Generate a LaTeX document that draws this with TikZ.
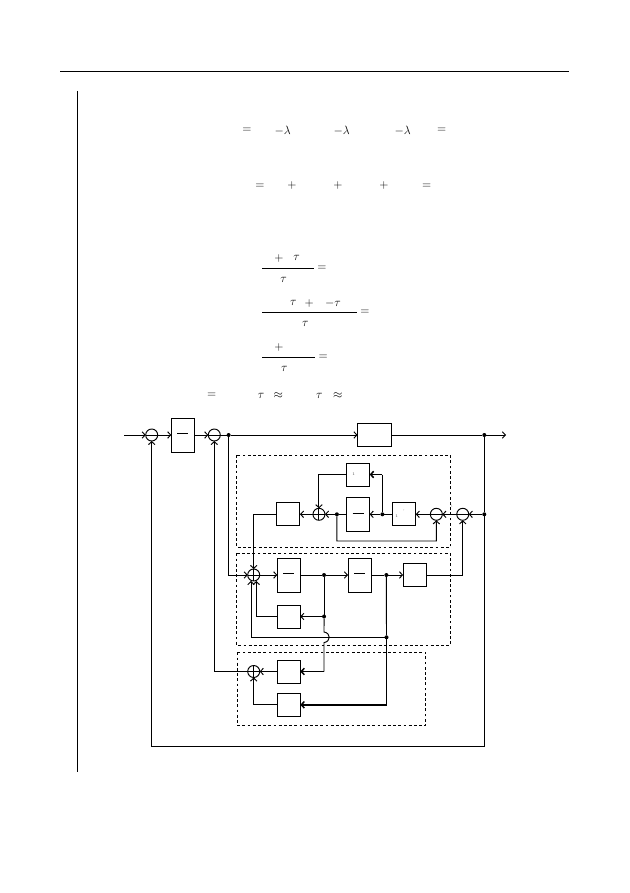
\documentclass[tikz,border=0pt]{standalone}
\usepackage{amsmath,amssymb}
\usepackage{xcolor}
\usetikzlibrary{positioning,arrows.meta,calc}
\newcommand{\fbar}{\rule[2.5pt]{11pt}{0.7pt}}

\begin{document}
\begin{tikzpicture}[x=1pt,y=-1pt,line width=0.95pt,
  block/.style={rectangle, draw, fill=white, minimum width=23pt, minimum height=23pt, inner sep=0pt, outer sep=0pt},
  fracv/.style={block, minimum height=34pt, font=\normalsize},
  frach/.style={block, minimum width=34pt},
  summ/.style={circle, draw, minimum size=12pt, inner sep=0pt, outer sep=0pt,
               path picture={\draw (path picture bounding box.west)--(path picture bounding box.east);}},
  sump/.style={summ, path picture={\draw (path picture bounding box.west)--(path picture bounding box.east);
               \draw (path picture bounding box.north)--(path picture bounding box.south);}},
  dot/.style={circle, fill, minimum size=4pt, inner sep=0pt, outer sep=0pt},
  arr/.style={-{Straight Barb[length=3pt,width=6.5pt]}},
  arrb/.style={arr, line width=1.5pt},
  group/.style={dashed, line width=0.8pt, dash pattern=on 2.8pt off 2.4pt},
  eq/.style={font=\fontsize{13}{15}\selectfont, inner sep=0pt},
  tick/.style={font=\fontsize{4}{4}\selectfont, inner sep=0pt, color=black!70}
]
\useasboundingbox (0,0) rectangle (629,893);
\draw[line width=1pt] (60,72)--(569,72);
\draw[line width=1pt] (77,91)--(77,772);

% equations
\node[eq] (ea1) at (247,130.5) {$=$}; \node[eq] (ea2) at (282.7,130.5) {$-\lambda$};
\node[eq] (ea3) at (341.7,130.5) {$-\lambda$}; \node[eq] (ea4) at (402.7,130.5) {$-\lambda$};
\node[eq] (ea5) at (441.7,130.5) {$=$};
\node[eq] (eb1) at (260,186) {$=$}; \node[eq] (eb2) at (292,186) {$+$};
\node[eq] (eb3) at (338,186) {$+$}; \node[eq] (eb4) at (384,186) {$+$};
\node[eq] (eb5) at (426.7,186) {$=$};
\draw (262,268.3)--(314,268.3);
\node[eq] (ec1) at (279,258) {$+$}; \node[eq] (ec2) at (296.7,258) {$\tau$};
\node[eq] (ec3) at (283.7,280) {$\tau$}; \node[eq] (ec4) at (322,268.3) {$=$};
\draw (262,312.3)--(356.7,312.3);
\node[eq] (ed1) at (293.3,303) {$\tau$}; \node[eq] (ed2) at (309.3,303) {$+$};
\node[eq] (ed3) at (333,303) {$-\tau$}; \node[eq] (ed4) at (305.3,324) {$\tau$};
\node[eq] (ed5) at (365,312.3) {$=$};
\draw (262,357.3)--(315,357.3);
\node[eq] (ee1) at (279,347.3) {$+$}; \node[eq] (ee2) at (284.3,368.5) {$\tau$};
\node[eq] (ee3) at (323.3,357.3) {$=$};
\node[eq] (ef1) at (211.7,395.7) {$=$}; \node[eq] (ef2) at (261,395.7) {$\tau$};
\node[eq] (ef3) at (278.3,395.7) {$\approx$}; \node[eq] (ef4) at (319.3,395.7) {$\tau$};
\node[eq] (ef5) at (337.7,395.7) {$\approx$};

% dashed groups
\draw[group] (236.7,455) rectangle (450.3,547.3);
\draw[group] (236.7,553.3) rectangle (450.3,645.3);
\draw[group] (237.3,652.3) rectangle (425.7,725.3);

% forward path
\coordinate (inp) at (124,435);
\node[summ] (s1) at (151.7,435) {};
\node[fracv, right=13.6pt of s1] (f1) {\fbar};
\node[summ, right=14pt of f1] (s2) {};
\node[dot, right=6.35pt of s2] (d1) {};
\node[frach] (plant) at (374.5,435) {};
\node[dot] (d3) at (484.3,435) {};
\coordinate (outp) at (506,435);

% inner loop
\node[dot] (d4) at (484.3,514.3) {};
\node[summ, left=13.55pt of d4] (s5) {};
\node[summ, left=14.4pt of s5] (s4) {};
\node[block, left=14.6pt of s4] (br) {};
\node[dot, left=8.35pt of br] (d5) {};
\node[fracv, left=10.75pt of d5] (mid) {\fbar};
\node[dot, left=7.75pt of mid] (d6) {};
\node[sump, left=9.95pt of d6] (s3) {};
\node[block, left=13pt of s3] (bl) {};
\node[block, above=11.3pt of mid] (top) {};
\node[tick] (mka) at (353.7,474.5) {1};
\node[tick] (mkb) at (396.8,516) {1};
\node[tick] (mkc) at (404,510.7) {'};
\node[tick] (mkd) at (451.3,505) {\textbackslash};
\coordinate (lp) at (436.3,541);
\coordinate (fbk) at (484.3,746.7);
\coordinate (ct) at (d5 |- top);

% middle row
\node[sump] (s6) at (253.7,575) {};
\node[fracv, right=17.6pt of s6] (b2a) {\fbar};
\node[dot, right=21.75pt of b2a] (d2) {};
\node[fracv, right=21.95pt of d2] (b2b) {\fbar};
\node[dot, right=13.35pt of b2b] (d7) {};
\node[block, right=14.75pt of d7] (b2c) {};
\node[block, below=13pt of b2a] (bfb) {};
\node[dot] (d8) at (d2 |- bfb) {};
\node[dot] (d9) at (386.5,637.3) {};
\coordinate (ja) at (324,632);
\coordinate (jb) at (324,642.6);

% lower group
\node[block, below=32pt of bfb] (b3a) {};
\node[block, below=10.3pt of b3a] (b3b) {};
\node[sump, left=17.6pt of b3a] (s7) {};
\coordinate (ca) at (jb |- b3a);
\coordinate (cb) at (d9 |- b3b);

\draw[arr](inp)--(s1);\draw[arr](s1)--(f1);\draw[arr](f1)--(s2);\draw(s2)--(d1);
\draw[arr](d1)--(plant);\draw(plant)--(d3);\draw[arr](d3)--(outp);
\draw[arr](d1)|-(s6);
\draw(d3)--(d4);\draw[arr](d4)--(fbk)-|(s1);
\draw[arr](d4)--(s5);\draw[arr](s5)--(s4);\draw[arr](s4)--(br);\draw(br)--(d5);
\draw[arr](d5)--(mid);\draw(mid)--(d6);\draw[arr](d6)--(s3);\draw[arr](s3)--(bl);
\draw(d5)--(ct);\draw[arrb](ct)--(top);\draw[arr](top)-|(s3);
\draw[arr](d6)|-(lp)--(s4);
\draw[arr](bl)-|(s6);
\draw[arr](s6)--(b2a);\draw(b2a)--(d2);\draw[arr](d2)--(b2b);\draw(b2b)--(d7);
\draw[arr](d7)--(b2c);\draw[arr](b2c)-|(s5);
\draw(d2)--(d8);\draw[arr](d8)--(bfb);
\draw[arr](bfb)-|([xshift=2.6pt]s6.south);
\draw(d7)--(d9);\draw[arr](d9)-|([xshift=-2.7pt]s6.south);
\draw(d8)--(ja) .. controls (331,633) and (331,641.5) .. (jb)--(ca);
\draw[arrb](ca)--(b3a);
\draw(d9)--(cb);\draw[arrb](cb)--(b3b);
\draw[arr](b3a)--(s7);\draw[arr](b3b)-|(s7);\draw[arr](s7)-|(s2);
\end{tikzpicture}
\end{document}
